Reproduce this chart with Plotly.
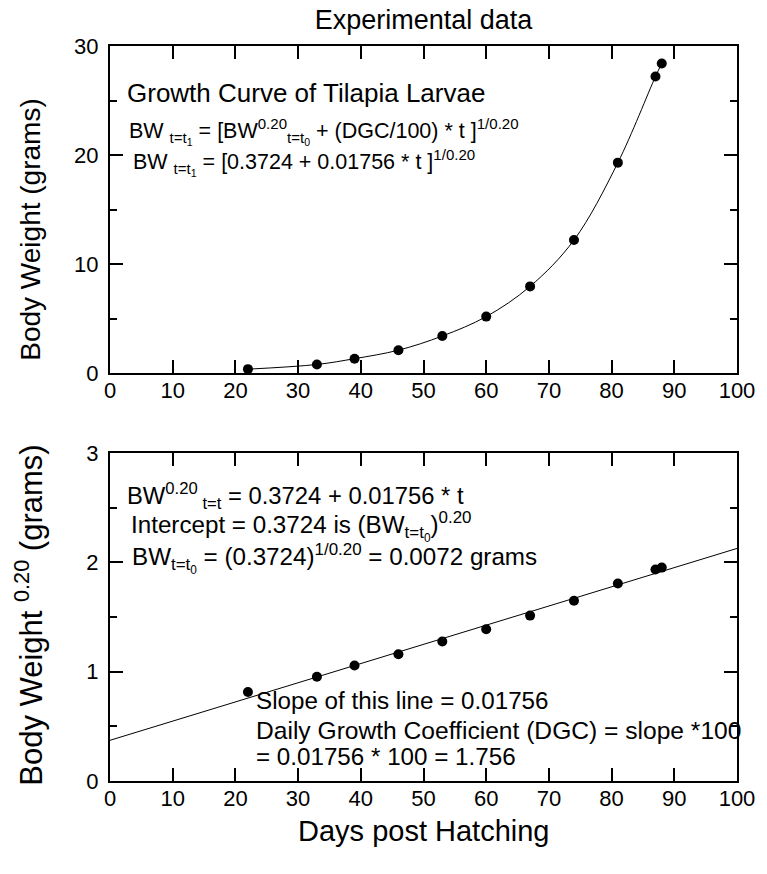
import plotly.graph_objects as go

# Tilapia larvae body weight (grams) by day post hatching
days = [22, 33, 39, 46, 53, 60, 67, 74, 81, 87, 88]
body_weight = [0.36, 0.79, 1.32, 2.10, 3.40, 5.18, 7.95, 12.2, 19.3, 27.2, 28.4]

# Fitted linear model of BW^0.20 against time
intercept = 0.3724
slope = 0.01756
exponent = 0.20
line_days = [0, 100]

x_ticks = list(range(0, 101, 10))
x_minor_ticks = list(range(5, 100, 10))
top_y_ticks = [0, 10, 20, 30]
bottom_y_ticks = [0, 1, 2, 3]

FONT = "Liberation Sans, Arial, sans-serif"

bw_transformed = [w ** exponent for w in body_weight]
bw_line = [intercept + slope * t for t in line_days]

fig = go.Figure()

marker = dict(color="black", size=10)
line = dict(color="black", width=1)

# Upper panel: smooth growth curve through the measured weights
fig.add_trace(go.Scatter(x=days, y=body_weight, mode="lines",
                         line=dict(line, shape="spline", smoothing=1.0),
                         xaxis="x", yaxis="y", hoverinfo="skip"))
fig.add_trace(go.Scatter(x=days, y=body_weight, mode="markers", marker=marker,
                         xaxis="x", yaxis="y"))
# Lower panel: linear fit of transformed weights
fig.add_trace(go.Scatter(x=line_days, y=bw_line, mode="lines", line=line,
                         xaxis="x2", yaxis="y2", hoverinfo="skip"))
fig.add_trace(go.Scatter(x=days, y=bw_transformed, mode="markers", marker=marker,
                         xaxis="x2", yaxis="y2"))

axis_common = dict(
    showgrid=False, zeroline=False, showline=True, linecolor="black",
    linewidth=2, mirror="ticks", ticks="inside", ticklen=13, tickwidth=2,
    tickcolor="black", tickfont=dict(size=22, color="black", family=FONT),
)

x_common = dict(axis_common, range=[0, 100], tickvals=x_ticks,
                ticklabelstandoff=-3)
y_common = dict(axis_common, ticklabelstandoff=5)
minor_x = dict(
    range=[0, 100], showgrid=False, zeroline=False, showline=False,
    ticks="inside", ticklen=7, tickwidth=2, tickcolor="black",
    tickvals=x_minor_ticks, showticklabels=False,
)
minor_y = dict(ticks="inside", ticklen=7, tickwidth=2, tickcolor="black")

TOP_DOMAIN = [0.555, 1.0]
BOTTOM_DOMAIN = [0.0, 0.446]

fig.update_layout(
    width=767, height=874,
    margin=dict(l=110, r=24, t=46, b=93),
    paper_bgcolor="white", plot_bgcolor="white",
    showlegend=False,
    font=dict(family=FONT, color="black"),
    title=dict(text="Experimental data", x=0.5, xref="paper", xanchor="center",
               y=1 - 20 / 874, yanchor="middle",
               font=dict(size=27, family=FONT, color="black")),
    xaxis=dict(x_common, domain=[0, 1], anchor="y"),
    yaxis=dict(y_common, domain=TOP_DOMAIN, anchor="x", range=[0, 30],
               tickvals=top_y_ticks, minor=dict(minor_y, dtick=5)),
    xaxis2=dict(x_common, domain=[0, 1], anchor="y2"),
    yaxis2=dict(y_common, domain=BOTTOM_DOMAIN, anchor="x2", range=[0, 3],
                tickvals=bottom_y_ticks, minor=dict(minor_y, dtick=0.5)),
    xaxis3=dict(minor_x, overlaying="x", anchor="y"),
    xaxis4=dict(minor_x, overlaying="x2", anchor="y2"),
)


def note(text, x, y, xref, yref, size=22, **kw):
    fig.add_annotation(text=text, x=x, y=y, xref=xref, yref=yref,
                       showarrow=False, xanchor=kw.pop("xanchor", "left"),
                       yanchor=kw.pop("yanchor", "middle"),
                       font=dict(size=size, family=FONT, color="black"), **kw)


# Upper panel equations
note("Growth Curve of Tilapia Larvae", 2.4, 25.7, "x", "y", size=26)
note("BW <sub>t=t<sub>1</sub></sub> = [BW<sup>0.20</sup><sub>t=t<sub>0</sub></sub>"
     " + (DGC/100) * t ]<sup>1/0.20</sup>", 2.7, 22.2, "x", "y", size=21.5)
note("BW <sub>t=t<sub>1</sub></sub> = [0.3724 + 0.01756 * t ]<sup>1/0.20</sup>",
     3.4, 19.3, "x", "y", size=21.5)

# Lower panel equations
EQ = 24.2
note("BW<sup>0.20</sup><sub> t=t</sub> = 0.3724 + 0.01756 * t", 2.4, 2.61,
     "x2", "y2", size=23.8)
note("Intercept = 0.3724 is (BW<sub>t=t<sub>0</sub></sub>)<sup>0.20</sup>",
     3.0, 2.33, "x2", "y2", size=EQ)
note("BW<sub>t=t<sub>0</sub></sub> = (0.3724)<sup>1/0.20</sup> = 0.0072 grams",
     3.2, 2.04, "x2", "y2", size=EQ)
note("Slope of this line = 0.01756", 23.0, 0.74, "x2", "y2", size=EQ)
note("Daily Growth Coefficient (DGC) = slope *100", 23.0, 0.46, "x2", "y2",
     size=24.6)
note("= 0.01756 * 100 = 1.756", 23.0, 0.22, "x2", "y2", size=EQ)

# Axis titles (paper coordinates span the plotting area)
PLOT_W, PLOT_H = 767 - 110 - 24, 874 - 46 - 93
title_x = (30 - 110) / PLOT_W
note("Body Weight (grams)", title_x, (781 - 230) / PLOT_H, "paper", "paper",
     size=28, xanchor="center", textangle=-90)
note("Body Weight <sup>0.20</sup> (grams)", (28 - 110) / PLOT_W,
     (781 - 615) / PLOT_H, "paper", "paper", size=31, xanchor="center",
     textangle=-90)
note("Days post Hatching", 0.5, -(831 - 781) / PLOT_H, "paper", "paper",
     size=29, xanchor="center")

fig.write_html("out.html")
